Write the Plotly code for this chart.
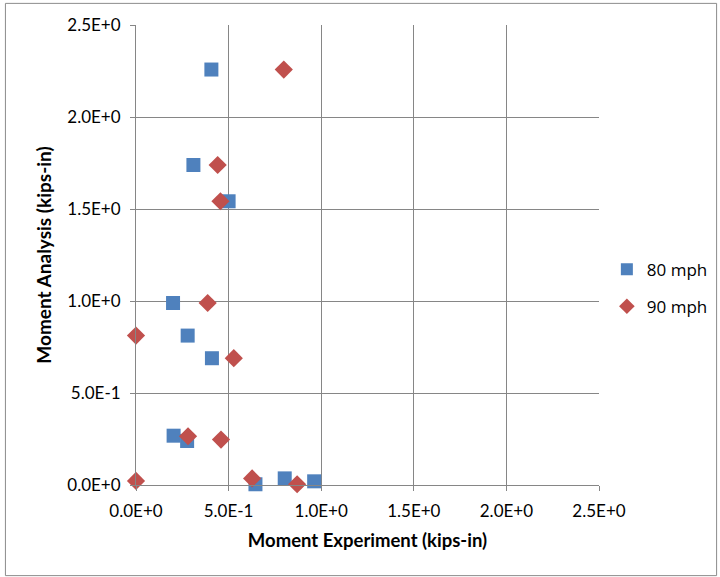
import plotly.graph_objects as go

# Measured bending moments (kips-in)
exp_80 = [0.407, 0.310, 0.500, 0.200, 0.279, 0.410, 0.203, 0.276, 0.645, 0.803, 0.962]
ana_80 = [2.258, 1.739, 1.542, 0.989, 0.812, 0.689, 0.268, 0.239, 0.004, 0.036, 0.020]

exp_90 = [0.798, 0.441, 0.456, 0.387, 0.000, 0.528, 0.281, 0.459, 0.000, 0.627, 0.870]
ana_90 = [2.258, 1.739, 1.542, 0.989, 0.812, 0.689, 0.265, 0.247, 0.022, 0.036, 0.004]

tick_vals = [0.0, 0.5, 1.0, 1.5, 2.0, 2.5]
tick_text = ["0.0E+0", "5.0E-1", "1.0E+0", "1.5E+0", "2.0E+0", "2.5E+0"]

BLUE = "#4F81BD"
RED = "#C0504D"
GRID = "#868686"
FONT = "Lato, 'Open Sans', sans-serif"
LEGEND_FONT = "'Open Sans', Lato, sans-serif"

fig = go.Figure()
fig.add_trace(go.Scatter(
    x=exp_80, y=ana_80, mode="markers", name="80 mph", legendgroup="a",
    marker=dict(symbol="square", size=14, color=BLUE, line=dict(width=0)),
    cliponaxis=False,
))
fig.add_trace(go.Scatter(
    x=exp_90, y=ana_90, mode="markers", name="90 mph", legendgroup="b",
    marker=dict(symbol="diamond", size=14, color=RED, line=dict(width=0)),
    cliponaxis=False,
))

axis_common = dict(
    range=[0, 2.5], tickvals=tick_vals, ticktext=tick_text,
    showgrid=True, gridcolor=GRID, gridwidth=1,
    showline=True, linecolor=GRID, linewidth=1,
    ticks="outside", ticklen=5, tickcolor=GRID,
    zeroline=False, tickfont=dict(family=FONT, size=17, color="#000000"),
    mirror=False, fixedrange=True, automargin=False,
)

fig.update_layout(
    width=720, height=577,
    paper_bgcolor="white", plot_bgcolor="white",
    margin=dict(l=136, r=121, t=25, b=92, autoexpand=False),
    font=dict(family=FONT, color="#000000"),
    xaxis=dict(**axis_common, ticklabelstandoff=6,
               title=dict(text="<b>Moment Experiment (kips-in)</b>",
                          font=dict(family=FONT, size=18.5), standoff=13)),
    yaxis=dict(**axis_common, ticklabelstandoff=6,
               title=dict(text="<b>Moment Analysis (kips-in)</b>",
                          font=dict(family=FONT, size=19), standoff=10)),
    legend=dict(x=1.017, y=0.428, xanchor="left", yanchor="middle",
                font=dict(family=LEGEND_FONT, size=17), bgcolor="rgba(0,0,0,0)",
                itemsizing="constant", traceorder="grouped",
                tracegroupgap=12, itemwidth=30),
    showlegend=True,
)

# Outer chart frame
fig.add_shape(type="rect", xref="paper", yref="paper",
              x0=-0.282, x1=1.254, y0=-0.197, y1=1.047,
              line=dict(color="#8C8C8C", width=1), layer="below")

fig.write_html("out.html")
